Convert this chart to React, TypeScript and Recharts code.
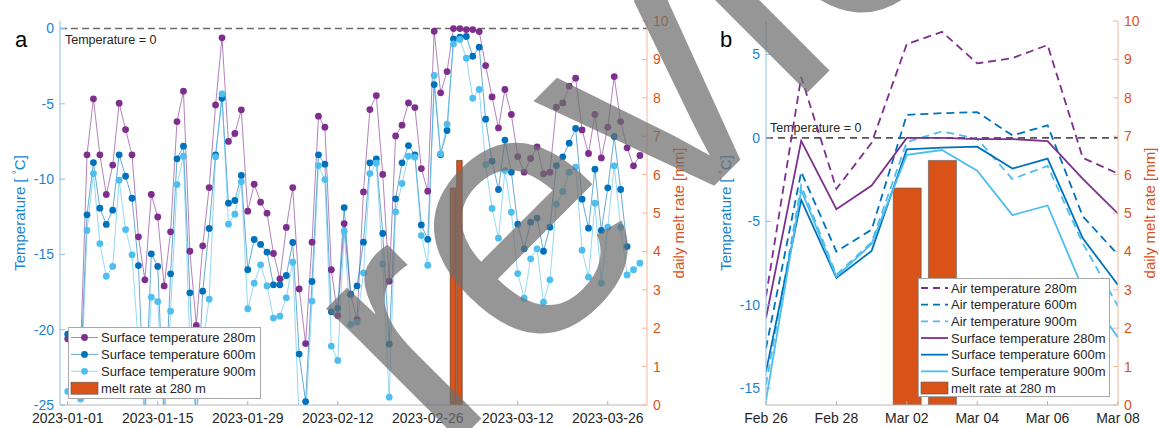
import React from 'react';
import { ComposedChart, Line, Bar, XAxis, YAxis, ReferenceLine, Legend } from 'recharts';

const FONT = '"Liberation Sans", Arial, Helvetica, sans-serif';

// Daily surface temperatures, 2023-01-01 .. 2023-03-31 (index = days since 2023-01-01)
const SURF_280: (number | null)[] = [
  -20.6, -21.0, -21.5, -8.39, -4.67, -8.39, -11.02, -9.07, -4.96, -6.71,
  -8.39, -13.83, -16.69, -11.02, -12.51, -17.09, -13.5, -6.18, -4.16, -14.79,
  -19.72, -14.43, -10.56, -5.07, -0.62, -7.5, -6.97, -5.4, -12.13, -10.34,
  -11.53, -12.26, -14.94, -16.62, -13.21, -10.56, -17.29, -20.92, -14.19, -5.82,
  -6.55, -16.02, -19.06, -12.95, -17.64, -19.34, -10.85, -5.38, -4.45, -9.69,
  -16.78, -7.13, -6.42, -4.94, -5.25, -9.3, -10.8, -0.18, -4.27, -2.86,
  0, 0, -0.07, -0.07, -0.2, -2.46, -4.54, -6.6, -4.05, -5.71,
  -8.5, -9.54, -8.63, -7.86, -9.65, -9.54, -5.22, -4.94, -3.83, -3.3,
  -6.73, -8.3, -5.71, -8.59, -6.55, -3.19, -6.18, -7.92, -9.12, -8.43,
];
const SURF_600: (number | null)[] = [
  -20.3, -22.0, -23.0, -12.37, -8.9, -11.93, -13.01, -12.06, -8.39, -9.81,
  -11.27, -15.74, -26.0, -14.96, -15.8, -26.0, -16.29, -8.65, -7.81, -17.55,
  -26.0, -17.44, -13.28, -8.39, -4.63, -11.6, -11.42, -9.76, -16.02, -14.01,
  -14.34, -14.85, -17.02, -17.02, -16.4, -14.21, -21.62, -24.77, -16.8, -8.39,
  -9.01, -18.81, -18.57, -11.89, -17.66, -17.09, -14.19, -8.92, -8.65, -13.61,
  -20.96, -11.31, -8.92, -7.77, -8.39, -13.04, -14.0, -3.72, -8.39, -6.77,
  -0.69, -0.58, -0.53, -1.84, -1.24, -6.02, -8.81, -10.69, -7.41, -9.54,
  -12.99, -14.63, -12.86, -12.59, -14.79, -13.19, -9.1, -8.52, -7.61, -6.64,
  -11.33, -13.26, -9.34, -13.41, -10.58, -7.17, -10.69, -14.48, null, null,
];
const SURF_900: (number | null)[] = [
  -24.1, -24.3, -24.6, -13.41, -9.63, -14.28, -16.45, -15.8, -10.07, -13.35,
  -15.03, -21.0, -26.0, -17.84, -18.13, -26.0, -18.77, -10.36, -8.48, -21.0,
  -26.0, -21.0, -17.97, -8.52, -4.34, -12.99, -12.33, -10.18, -18.61, -16.91,
  -15.69, -17.09, -19.23, -19.1, -17.88, -15.52, -26.0, -26.0, -18.1, -9.1,
  -10.03, -21.09, -22.04, -13.46, -19.65, -19.5, -16.22, -9.63, -8.94, -15.63,
  -24.48, -12.17, -10.29, -8.48, -8.54, -13.75, -15.72, -3.12, -8.32, -6.35,
  -1.02, -0.73, -1.97, -4.63, -4.05, -9.03, -11.95, -13.92, -9.43, -12.2,
  -16.27, -17.91, -15.29, -14.63, -18.17, -16.69, -11.66, -10.82, -9.54, -9.21,
  -14.72, -16.51, -11.6, -16.91, -13.19, -9.12, -13.21, -16.36, -16.02, -15.58,
];

// Daily melt rate at 280 m [mm] (days since 2023-01-01)
const MELT_DAY = [60, 61];
const MELT_MM = [5.65, 6.37];

// Air temperatures, Feb 26 .. Mar 08
const B_FIRST_DAY = 56;
const AIR_280 = [-9.5, 3.65, -3.05, -0.3, 5.62, 6.35, 4.46, 4.78, 5.56, -1.2, -2.14];
const AIR_600 = [-12.6, -2.04, -6.81, -5.5, 1.38, 1.48, 1.54, 0.15, 0.75, -4.7, -7.0];
const AIR_900 = [-14.8, -2.85, -8.2, -6.25, -0.25, 0.39, -0.05, -2.47, -1.68, -6.31, -10.09];

const TICK_DAYS_A = [0, 14, 28, 42, 56, 70, 84];
const TICK_LABELS_A = ['2023-01-01', '2023-01-15', '2023-01-29', '2023-02-12', '2023-02-26', '2023-03-12', '2023-03-26'];
const TICK_DAYS_B = [56, 58, 60, 62, 64, 66];
const TICK_LABELS_B = ['Feb 26', 'Feb 28', 'Mar 02', 'Mar 04', 'Mar 06', 'Mar 08'];
const LEFT_TICKS_A = [-25, -20, -15, -10, -5, 0];
const LEFT_TICKS_B = [-15, -10, -5, 0, 5];
const RIGHT_TICKS = [0, 1, 2, 3, 4, 5, 6, 7, 8, 9, 10];

const C280 = '#7E2F8E';
const C600 = '#0072BD';
const C900 = '#4DBEEE';
const CMELT = '#D95319';
const BLUE_TXT = '#1a84cf';
const BLUE_AX = '#8cbde3';
const ORANGE_AX = '#f3b89c';
const DARK_TXT = '#262626';

const meltFor = (d: number) => {
  const k = MELT_DAY.indexOf(d);
  return k >= 0 ? MELT_MM[k] : null;
};

const dataA = SURF_280.map((v, i) => ({
  day: i,
  s280: v,
  s600: SURF_600[i],
  s900: SURF_900[i],
  melt: meltFor(i),
}));

const dataB = AIR_280.map((v, i) => {
  const d = B_FIRST_DAY + i;
  return {
    day: d,
    a280: v,
    a600: AIR_600[i],
    a900: AIR_900[i],
    s280: SURF_280[d],
    s600: SURF_600[d],
    s900: SURF_900[d],
    melt: meltFor(d),
  };
});

const mkLeftTick = (axisX: number) => (props: any) => {
  const { y, payload } = props;
  return (
    <g>
      <line x1={axisX} x2={axisX + 5} y1={y} y2={y} stroke={BLUE_AX} strokeWidth={1} />
      <text x={axisX - 6} y={y} dy="0.35em" textAnchor="end" fill={BLUE_TXT} fontSize={14} fontFamily={FONT}>
        {String(payload.value)}
      </text>
    </g>
  );
};

const mkRightTick = (axisX: number) => (props: any) => {
  const { y, payload } = props;
  return (
    <g>
      <line x1={axisX - 5} x2={axisX} y1={y} y2={y} stroke={ORANGE_AX} strokeWidth={1} />
      <text x={axisX + 6} y={y} dy="0.35em" textAnchor="start" fill={CMELT} fontSize={14} fontFamily={FONT}>
        {String(payload.value)}
      </text>
    </g>
  );
};

const mkXTick = (days: number[], labels: string[], axisY: number) => (props: any) => {
  const { x, payload } = props;
  const k = days.indexOf(payload.value);
  return (
    <g>
      <line x1={x} x2={x} y1={axisY} y2={axisY - 4} stroke="#b0b0b0" strokeWidth={1} />
      <text x={x} y={axisY + 13} dy="0.35em" textAnchor="middle" fill={DARK_TXT} fontSize={14} fontFamily={FONT}>
        {k >= 0 ? labels[k] : ''}
      </text>
    </g>
  );
};

const TempLabel = (x: number) => () => (
  <text
    x={x}
    y={213}
    transform={`rotate(-90 ${x} 213)`}
    textAnchor="middle"
    fill={BLUE_TXT}
    fontSize={15}
    fontFamily={FONT}
  >
    Temperature [ <tspan dy={-5} fontSize={10}>°</tspan><tspan dy={5}>C]</tspan>
  </text>
);

const MeltLabel = (x: number) => () => (
  <text
    x={x}
    y={213}
    transform={`rotate(-90 ${x} 213)`}
    textAnchor="middle"
    fill={CMELT}
    fontSize={15}
    fontFamily={FONT}
  >
    daily melt rate [mm]
  </text>
);

const ZeroLabel = (x: number, y: number) => () => (
  <text x={x} y={y} dy="0.35em" fill={DARK_TXT} fontSize={12.5} fontFamily={FONT}>
    Temperature = 0
  </text>
);

type LegendItem = { label: string; color: string; kind: 'dot' | 'solid' | 'dash' | 'bar' };

const LEGEND_A: LegendItem[] = [
  { label: 'Surface temperature 280m', color: C280, kind: 'dot' },
  { label: 'Surface temperature 600m', color: C600, kind: 'dot' },
  { label: 'Surface temperature 900m', color: C900, kind: 'dot' },
  { label: 'melt rate at 280 m', color: CMELT, kind: 'bar' },
];
const LEGEND_B: LegendItem[] = [
  { label: 'Air temperature 280m', color: C280, kind: 'dash' },
  { label: 'Air temperature 600m', color: C600, kind: 'dash' },
  { label: 'Air temperature 900m', color: C900, kind: 'dash' },
  { label: 'Surface temperature 280m', color: C280, kind: 'solid' },
  { label: 'Surface temperature 600m', color: C600, kind: 'solid' },
  { label: 'Surface temperature 900m', color: C900, kind: 'solid' },
  { label: 'melt rate at 280 m', color: CMELT, kind: 'bar' },
];

const mkLegend = (items: LegendItem[], w: number, h: number, y0: number, step: number) => () => (
  <svg width={w} height={h} style={{ display: 'block' }}>
    <rect x={0.5} y={0.5} width={w - 1} height={h - 1} fill="#fff" stroke="#a8a8a8" strokeWidth={1} />
    {items.map((it, i) => {
      const cy = y0 + step * i;
      return (
        <g key={it.label}>
          {it.kind === 'bar' ? (
            <rect x={3} y={cy - 6} width={27} height={12} fill={it.color} stroke="#555" strokeWidth={0.6} />
          ) : (
            <line
              x1={3}
              x2={30}
              y1={cy}
              y2={cy}
              stroke={it.color}
              strokeWidth={it.kind === 'dot' ? 1 : 1.8}
              strokeOpacity={it.kind === 'dot' ? 0.6 : 1}
              strokeDasharray={it.kind === 'dash' ? '7 5' : undefined}
            />
          )}
          {it.kind === 'dot' && <circle cx={16.5} cy={cy} r={3.4} fill={it.color} />}
          <text x={33} y={cy} dy="0.35em" fontSize={13} fill={DARK_TXT} fontFamily={FONT}>
            {it.label}
          </text>
        </g>
      );
    })}
  </svg>
);

const PanelA = () => (
  <ComposedChart width={700} height={428} data={dataA} margin={{ top: 21, right: 52, bottom: 22, left: 59 }}>
    <XAxis
      type="number"
      dataKey="day"
      domain={[-1.2, 90.1]}
      ticks={TICK_DAYS_A}
      interval={0}
      height={1}
      allowDataOverflow
      axisLine={{ stroke: '#b8b8b8' }}
      tickLine={false}
      tick={mkXTick(TICK_DAYS_A, TICK_LABELS_A, 405)}
    />
    <YAxis
      yAxisId="left"
      width={1}
      domain={[-25, 0.5]}
      ticks={LEFT_TICKS_A}
      interval={0}
      allowDataOverflow
      axisLine={{ stroke: BLUE_AX }}
      tickLine={false}
      tick={mkLeftTick(60)}
      label={TempLabel(25)}
    />
    <YAxis
      yAxisId="right"
      orientation="right"
      width={1}
      domain={[0, 10]}
      ticks={RIGHT_TICKS}
      interval={0}
      allowDataOverflow
      axisLine={{ stroke: ORANGE_AX }}
      tickLine={false}
      tick={mkRightTick(647)}
      label={MeltLabel(684)}
    />
    <Bar yAxisId="right" dataKey="melt" fill={CMELT} stroke="#4a2410" strokeWidth={0.6} barSize={5.5} isAnimationActive={false} />
    <Line yAxisId="left" dataKey="s280" stroke={C280} strokeWidth={1} strokeOpacity={0.6}
      dot={{ r: 3.4, fill: C280, stroke: 'none', strokeOpacity: 1 }} activeDot={false} isAnimationActive={false} />
    <Line yAxisId="left" dataKey="s600" stroke={C600} strokeWidth={1} strokeOpacity={0.6}
      dot={{ r: 3.4, fill: C600, stroke: 'none', strokeOpacity: 1 }} activeDot={false} isAnimationActive={false} />
    <Line yAxisId="left" dataKey="s900" stroke={C900} strokeWidth={1} strokeOpacity={0.6}
      dot={{ r: 3.4, fill: C900, stroke: 'none', strokeOpacity: 1 }} activeDot={false} isAnimationActive={false} />
    <ReferenceLine yAxisId="left" y={0} stroke="#6a6a6a" strokeWidth={1.6} strokeDasharray="7 4" label={ZeroLabel(65, 39.5)} />
    <Legend
      layout="vertical"
      align="center"
      verticalAlign="middle"
      content={mkLegend(LEGEND_A, 193, 72, 10.5, 16.9)}
      wrapperStyle={{ position: 'absolute', left: 67.5, top: 327, width: 193, height: 72 }}
    />
  </ComposedChart>
);

const PanelB = () => (
  <ComposedChart width={459} height={428} data={dataB} margin={{ top: 21, right: 40, bottom: 22, left: 65 }}>
    <XAxis
      type="number"
      dataKey="day"
      domain={[56, 66]}
      ticks={TICK_DAYS_B}
      interval={0}
      height={1}
      allowDataOverflow
      axisLine={{ stroke: '#b8b8b8' }}
      tickLine={false}
      tick={mkXTick(TICK_DAYS_B, TICK_LABELS_B, 405)}
    />
    <YAxis
      yAxisId="left"
      width={1}
      domain={[-16, 7]}
      ticks={LEFT_TICKS_B}
      interval={0}
      allowDataOverflow
      axisLine={{ stroke: BLUE_AX }}
      tickLine={false}
      tick={mkLeftTick(66)}
      label={TempLabel(31)}
    />
    <YAxis
      yAxisId="right"
      orientation="right"
      width={1}
      domain={[0, 10]}
      ticks={RIGHT_TICKS}
      interval={0}
      allowDataOverflow
      axisLine={{ stroke: ORANGE_AX }}
      tickLine={false}
      tick={mkRightTick(418)}
      label={MeltLabel(455)}
    />
    <Bar yAxisId="right" dataKey="melt" fill={CMELT} stroke="#555" strokeWidth={0.6} barSize={28} isAnimationActive={false} />
    <ReferenceLine yAxisId="left" y={0} stroke="#555" strokeWidth={1.6} strokeDasharray="7 5" label={ZeroLabel(70, 127.5)} />
    <Line yAxisId="left" dataKey="a280" stroke={C280} strokeWidth={1.8} strokeDasharray="8 5" dot={false} activeDot={false} isAnimationActive={false} />
    <Line yAxisId="left" dataKey="a600" stroke={C600} strokeWidth={1.8} strokeDasharray="8 5" dot={false} activeDot={false} isAnimationActive={false} />
    <Line yAxisId="left" dataKey="a900" stroke={C900} strokeWidth={1.8} strokeDasharray="8 5" dot={false} activeDot={false} isAnimationActive={false} />
    <Line yAxisId="left" dataKey="s280" stroke={C280} strokeWidth={1.8} dot={false} activeDot={false} isAnimationActive={false} />
    <Line yAxisId="left" dataKey="s600" stroke={C600} strokeWidth={1.8} dot={false} activeDot={false} isAnimationActive={false} />
    <Line yAxisId="left" dataKey="s900" stroke={C900} strokeWidth={1.8} dot={false} activeDot={false} isAnimationActive={false} />
    <Legend
      layout="vertical"
      align="center"
      verticalAlign="middle"
      content={mkLegend(LEGEND_B, 192, 119, 10, 16.67)}
      wrapperStyle={{ position: 'absolute', left: 218, top: 277.5, width: 192, height: 119 }}
    />
  </ComposedChart>
);

export default function App() {
  return (
    <div style={{ position: 'absolute', left: 0, top: 0, width: 1159, height: 428, background: '#fff', overflow: 'hidden' }}>
      <div style={{ position: 'absolute', left: 0, top: 0 }}>
        <PanelA />
      </div>
      <div style={{ position: 'absolute', left: 700, top: 0 }}>
        <PanelB />
      </div>
      <svg
        width={1159}
        height={428}
        style={{ position: 'absolute', left: 0, top: 0, pointerEvents: 'none' }}
      >
        <text x={15} y={46.5} fontSize={22} fill="#000" fontFamily={FONT}>a</text>
        <text x={720} y={46.5} fontSize={22} fill="#000" fontFamily={FONT}>b</text>
        <text
          x={442}
          y={458}
          transform="rotate(-45 442 458)"
          fontSize={355}
          fontFamily={FONT}
          fill="#6e6e6e"
          fillOpacity={0.72}
        >
          review
        </text>
      </svg>
    </div>
  );
}
